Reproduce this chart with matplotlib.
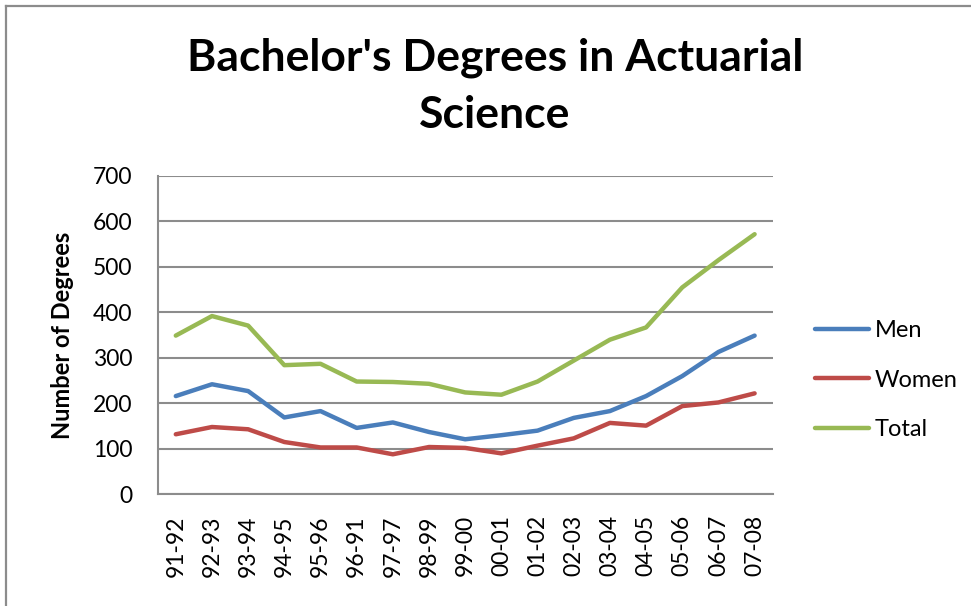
import matplotlib
matplotlib.use("Agg")
import matplotlib.pyplot as plt
from matplotlib.lines import Line2D

plt.rcParams['font.family'] = ['Lato', 'DejaVu Sans']

# --- data ---
years = ['91-92', '92-93', '93-94', '94-95', '95-96', '96-91', '97-97', '98-99',
         '99-00', '00-01', '01-02', '02-03', '03-04', '04-05', '05-06', '06-07', '07-08']
men = [216, 242, 227, 169, 183, 146, 158, 137, 121, 130, 140, 168, 183, 216, 260, 313, 349]
women = [132, 148, 143, 115, 103, 103, 88, 104, 102, 90, 107, 123, 157, 151, 194, 202, 222]
total = [349, 392, 371, 284, 287, 248, 247, 243, 224, 219, 248, 294, 340, 367, 455, 515, 572]

GRID = '#8c8c8c'

fig = plt.figure(figsize=(9.71, 6.06), dpi=100)
ax = fig.add_axes([157.7/971, 1 - 494.3/606, 615/971, 318.3/606])

x = list(range(len(years)))
ax.plot(x, men, color='#4A7EBB', lw=3.2, solid_capstyle='round', label='Men')
ax.plot(x, women, color='#BE4B48', lw=3.2, solid_capstyle='round', label='Women')
ax.plot(x, total, color='#98B954', lw=3.2, solid_capstyle='round', label='Total')

ax.set_xlim(-0.5, len(years) - 0.5)
ax.set_ylim(0, 700)
ax.set_yticks(range(0, 701, 100))
ax.set_xticks(x)
ax.set_xticklabels(years, rotation=90, fontsize=16.5)
ax.tick_params(axis='y', labelsize=16.5, length=0, pad=18)
ax.tick_params(axis='x', length=0, pad=15)
ax.grid(axis='y', color=GRID, lw=1.5)
ax.set_axisbelow(True)

# Despine
ax.spines['top'].set_visible(False)
ax.spines['right'].set_visible(False)
for s in ('left', 'bottom'):
    ax.spines[s].set_color(GRID)
    ax.spines[s].set_linewidth(1.5)

ax.set_ylabel('Number of Degrees', fontsize=17, fontweight='bold', labelpad=14)

leg = ax.legend(loc='center left', bbox_to_anchor=(1.034, 0.359), frameon=False,
                fontsize=17, handlelength=2.3, handletextpad=0.25, labelspacing=1.2)

fig.text(495/971, 1 - 58/606, "Bachelor's Degrees in Actuarial", ha='center', va='center',
         fontsize=32, fontweight='bold')
fig.text(495/971, 1 - 115/606, "Science", ha='center', va='center',
         fontsize=32, fontweight='bold')

# chart frame (only top and left edges are visible)
fig.add_artist(Line2D([6/971, 1], [1 - 6/606, 1 - 6/606], transform=fig.transFigure, color=GRID, lw=1.6))
fig.add_artist(Line2D([6/971, 6/971], [0, 1 - 6/606], transform=fig.transFigure, color=GRID, lw=1.6))

fig.savefig('out.png', dpi=100)
